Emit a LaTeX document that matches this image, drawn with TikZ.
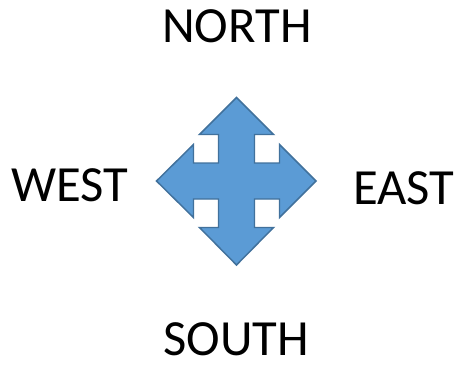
\documentclass[tikz,border=0pt]{standalone}
\usepackage{fontspec}
\setmainfont{Carlito}
\usepackage{xcolor}
\usetikzlibrary{positioning,calc}
\definecolor{arrowfill}{HTML}{5B9BD5}
\definecolor{arrowline}{HTML}{41719C}

\begin{document}
\begin{tikzpicture}[x=0.75pt,y=-0.75pt,font=\fontsize{38}{40}\selectfont]
\useasboundingbox (0,0) rectangle (461,365);
% four-way arrow
\coordinate (c) at (236.5,181);
\draw[fill=arrowfill,draw=arrowline,line width=1.1pt,line join=miter]
  (236.5,97.5) -- (273.5,134.5) -- (254.5,134.5) -- (254.5,163) -- (279.5,163) -- (279.5,144.5)
  -- (316,181) -- (279.5,217.5) -- (279.5,199) -- (254.5,199) -- (254.5,227.5) -- (273.5,227.5)
  -- (236.5,265) -- (199.5,227.5) -- (218.5,227.5) -- (218.5,199) -- (193.5,199) -- (193.5,217.5)
  -- (156.5,181) -- (193.5,144.5) -- (193.5,163) -- (218.5,163) -- (218.5,134.5) -- (199.5,134.5) -- cycle;
% labels
\foreach \nm/\xo/\yo/\txt in {north/237/42/NORTH, south/236/355/SOUTH, west/70/201.7/WEST, east/404/204.3/EAST}{
  \node[anchor=base,inner sep=0pt] (\nm) at (\xo,\yo) {\txt};
}
\end{tikzpicture}
\end{document}
